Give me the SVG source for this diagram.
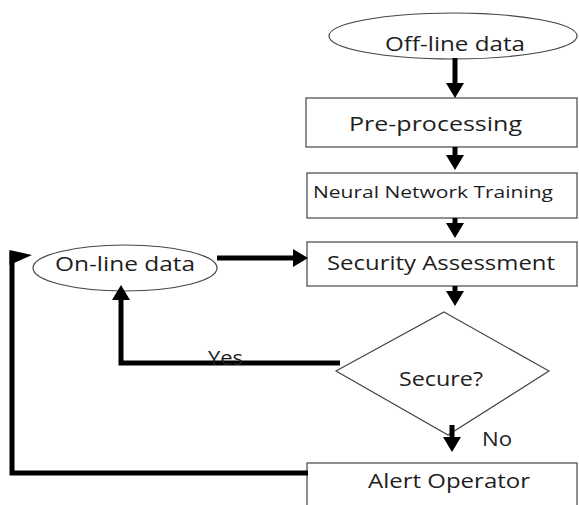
<svg xmlns="http://www.w3.org/2000/svg" width="579" height="505" viewBox="0 0 579 505">
  <style>
    .shape { fill: #ffffff; stroke: #454545; stroke-width: 1.2; }
    .lbl { font-family: "Open Sans", "Liberation Sans", sans-serif; fill: #1e1e1e; font-size: 20px; }
    .conn { fill: none; stroke: #000000; stroke-width: 5; }
    .head { fill: #000000; }
  </style>
  <defs>
    <marker id="ah" markerUnits="userSpaceOnUse" markerWidth="15" markerHeight="18" refX="0" refY="9" orient="auto" viewBox="0 0 15 18">
      <path class="head" d="M0,0 L15,9 L0,18 Z"/>
    </marker>
  </defs>
  <rect width="579" height="505" fill="#ffffff"/>

  <g id="offline">
    <ellipse class="shape" cx="453" cy="36" rx="124" ry="23"/>
    <text class="lbl" x="385" y="51" textLength="140" lengthAdjust="spacingAndGlyphs">Off-line data</text>
  </g>
  <g id="preprocessing">
    <rect class="shape" x="306" y="98" width="271" height="49"/>
    <text class="lbl" x="349" y="131" textLength="173" lengthAdjust="spacingAndGlyphs">Pre-processing</text>
  </g>
  <g id="nntraining">
    <rect class="shape" x="307" y="173" width="270" height="45"/>
    <text class="lbl" x="313" y="198" font-size="15.5" style="font-size:15.5px" textLength="240" lengthAdjust="spacingAndGlyphs">Neural Network Training</text>
  </g>
  <g id="security">
    <rect class="shape" x="307" y="242" width="270" height="44"/>
    <text class="lbl" x="327" y="270" textLength="228" lengthAdjust="spacingAndGlyphs">Security Assessment</text>
  </g>
  <g id="online">
    <ellipse class="shape" cx="125" cy="268" rx="92" ry="23"/>
    <text class="lbl" x="55" y="271" textLength="140" lengthAdjust="spacingAndGlyphs">On-line data</text>
  </g>
  <g id="secure">
    <polygon class="shape" points="444,312 549,371 448,435 336,371"/>
    <text class="lbl" x="399" y="386" textLength="84" lengthAdjust="spacingAndGlyphs">Secure?</text>
  </g>
  <g id="alert">
    <rect class="shape" x="307" y="463" width="270" height="50"/>
    <text class="lbl" x="368" y="488" textLength="162" lengthAdjust="spacingAndGlyphs">Alert Operator</text>
  </g>

  <g id="connectors">
    <line class="conn" x1="455" y1="58" x2="455" y2="83" marker-end="url(#ah)"/>
    <line class="conn" x1="455" y1="147" x2="455" y2="155" marker-end="url(#ah)"/>
    <line class="conn" x1="455" y1="218" x2="455" y2="223" marker-end="url(#ah)"/>
    <line class="conn" x1="455" y1="286" x2="455" y2="291" marker-end="url(#ah)"/>
    <line class="conn" x1="452" y1="425" x2="452" y2="437" marker-end="url(#ah)"/>
    <line class="conn" x1="217" y1="258" x2="293" y2="258" marker-end="url(#ah)"/>
    <path class="conn" d="M340,363 H121 V300" marker-end="url(#ah)"/>
    <path class="conn" d="M308,473 H12 V252"/>
    <polygon class="head" points="9.5,250 32,255 9.5,265"/>
    <text class="lbl" x="208" y="365" textLength="35" lengthAdjust="spacingAndGlyphs">Yes</text>
    <text class="lbl" x="482" y="446" textLength="30" lengthAdjust="spacingAndGlyphs">No</text>
  </g>
</svg>
